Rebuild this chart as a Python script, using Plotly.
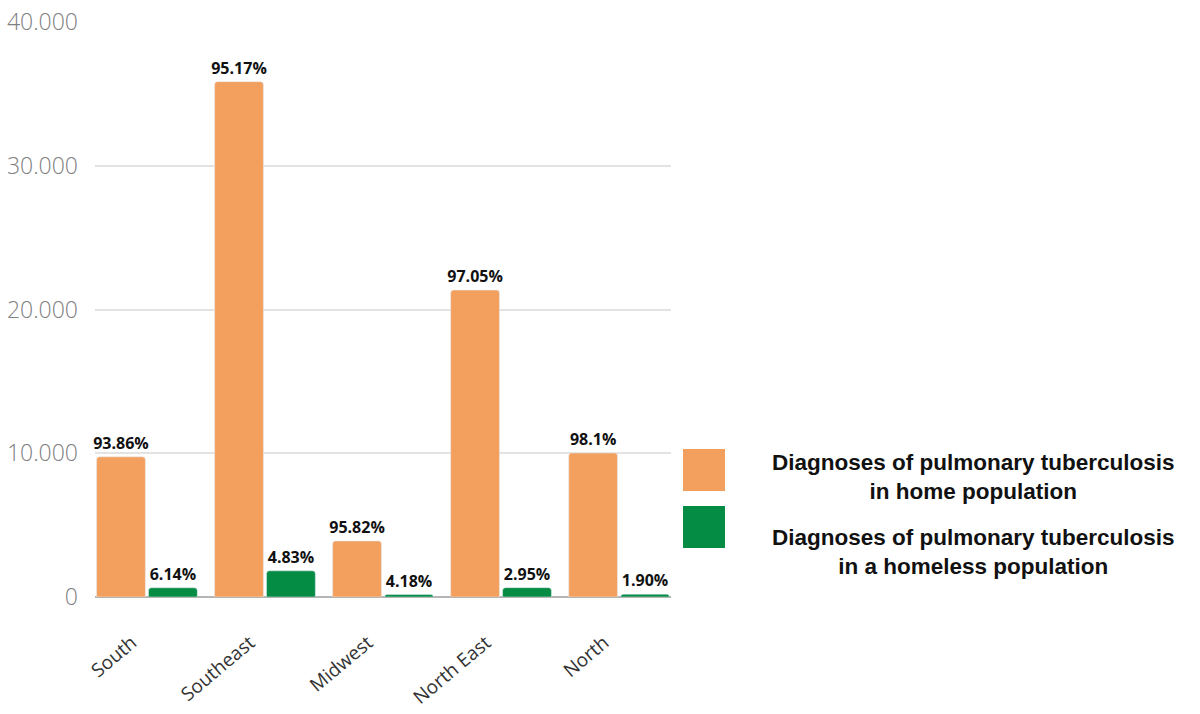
import plotly.graph_objects as go

# Regional tuberculosis diagnoses
regions = ["South", "Southeast", "Midwest", "North East", "North"]
home_cases = [9750, 35850, 3900, 21350, 10020]
homeless_cases = [640, 1820, 170, 650, 195]
home_share = ["93.86%", "95.17%", "95.82%", "97.05%", "98.1%"]
homeless_share = ["6.14%", "4.83%", "4.18%", "2.95%", "1.90%"]
series_names = [
    "Diagnoses of pulmonary tuberculosis<br>in home population",
    "Diagnoses of pulmonary tuberculosis<br>in a homeless population",
]
y_ticks = [0, 10000, 20000, 30000, 40000]

ORANGE = "#F3A05F"
GREEN = "#048B44"

x_idx = list(range(len(regions)))
label_font = dict(family="Open Sans", size=16, color="#111", weight="bold")

fig = go.Figure()
fig.add_trace(go.Bar(
    x=x_idx, y=home_cases, name=series_names[0], marker_color=ORANGE,
    text=home_share, textposition="outside", textfont=label_font,
    constraintext="none", cliponaxis=False,
))
fig.add_trace(go.Bar(
    x=x_idx, y=homeless_cases, name=series_names[1], marker_color=GREEN,
    text=homeless_share, textposition="outside", textfont=label_font,
    constraintext="none", cliponaxis=False,
))

bargap = 0.12
half = (1 - bargap) / 2

fig.update_layout(
    width=1200, height=714,
    margin=dict(l=95, r=529, t=22, b=117),
    plot_bgcolor="white", paper_bgcolor="white",
    barmode="group", bargap=bargap, bargroupgap=0.06,
    barcornerradius=3,
    separators=",.",
    showlegend=False,
    xaxis=dict(
        range=[-half, len(regions) - 1 + half], automargin=False,
        tickmode="array", tickvals=x_idx, ticktext=regions,
        tickangle=-40, ticklabelshift=-15, ticklabelstandoff=30,
        tickfont=dict(family="Open Sans", size=19, color="#333"),
        showgrid=False, zeroline=False, showline=False, ticks="",
    ),
    yaxis=dict(
        range=[0, 40000], tickvals=y_ticks, tickformat=",d", automargin=False,
        tickfont=dict(family="Open Sans", size=23, color="#808080", weight=300),
        showgrid=True, gridcolor="#e3e3e3", gridwidth=2,
        zeroline=True, zerolinecolor="#b5b5b5", zerolinewidth=2,
        showline=False, ticks="", ticklabelstandoff=16,
    ),
)

# Legend drawn as large swatches with centred bold captions
swatch_colors = [ORANGE, GREEN]
swatch_top = [449, 506]
swatch_size = 42
for color, top, name in zip(swatch_colors, swatch_top, series_names):
    fig.add_shape(
        type="rect", xref="paper", yref="paper",
        x0=(683 - 95) / 576, x1=(725 - 95) / 576,
        y0=(597 - top - swatch_size) / 575, y1=(597 - top) / 575,
        fillcolor=color, line_width=0,
    )

caption_centers = [477, 552]
for cy, name in zip(caption_centers, series_names):
    fig.add_annotation(
        xref="paper", yref="paper",
        x=(973 - 95) / 576, y=(597 - cy) / 575,
        text=name, showarrow=False, align="center",
        xanchor="center", yanchor="middle",
        font=dict(family="Liberation Sans", size=22.5, color="#111", weight="bold"),
    )

fig.write_html("out.html")
